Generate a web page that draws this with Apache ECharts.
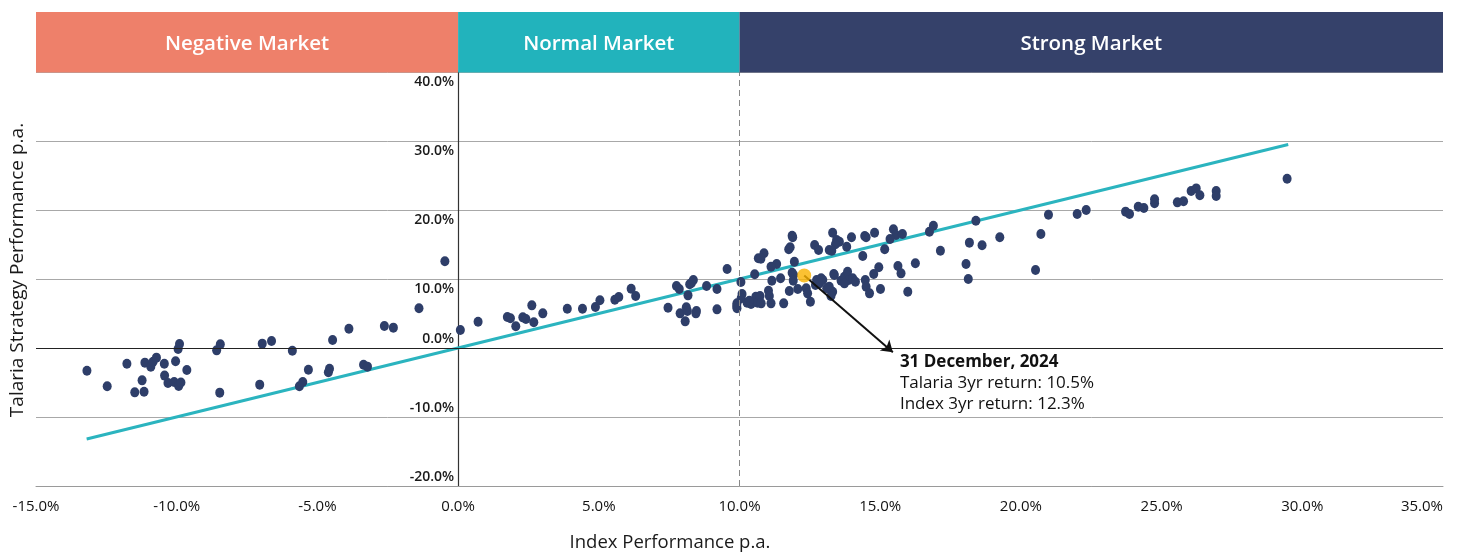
<!DOCTYPE html>
<html><head><meta charset="utf-8">
<script src="https://cdn.jsdelivr.net/npm/echarts@6/dist/echarts.min.js"></script>
<style>html,body{margin:0;padding:0;background:#fff}#c{width:1458px;height:554px}</style>
</head><body><div id="c"></div>
<script>
// ---- data ----
const xTicks = {min: -15, max: 35, interval: 5};
const yTicks = {min: -20, max: 40, interval: 10};
const bands = [
  {name: 'Negative Market', from: -15, to: 0, color: '#EE806A'},
  {name: 'Normal Market', from: 0, to: 10, color: '#22B3BC'},
  {name: 'Strong Market', from: 10, to: 35, color: '#35416A'}
];
const negativePts = [[-13.19,-3.29],[-12.47,-5.55],[-11.77,-2.27],[-11.49,-6.43],[-11.23,-4.69],[-11.16,-6.33],[-11.13,-2.12],[-10.92,-2.7],[-10.84,-1.98],[-10.72,-1.4],[-10.44,-2.27],[-10.43,-4.0],[-10.31,-5.07],[-10.09,-4.93],[-10.04,-1.93],[-9.95,-0.14],[-9.9,0.58],[-9.93,-5.51],[-9.85,-5.0],[-9.64,-3.19],[-8.58,-0.34],[-8.45,0.53],[-8.47,-6.47],[-7.05,-5.31],[-6.96,0.63],[-6.63,1.01],[-5.89,-0.39],[-5.64,-5.55],[-5.52,-4.93],[-5.32,-3.14],[-4.57,-3.0],[-4.61,-3.52],[-4.46,1.16],[-3.88,2.8],[-3.36,-2.42],[-3.22,-2.7],[-2.62,3.19],[-2.3,2.95],[-1.39,5.75],[-0.47,12.56]];
const normalPts = [[0.08,2.6],[0.71,3.8],[1.75,4.49],[1.86,4.3],[2.05,3.14],[2.3,4.44],[2.41,4.2],[2.62,6.18],[2.69,3.72],[3.01,5.02],[3.88,5.7],[4.42,5.7],[4.88,5.94],[5.04,6.91],[5.57,7.0],[5.71,7.39],[6.15,8.59],[6.31,7.54],[7.46,5.84],[7.76,8.99],[7.86,8.55],[7.89,5.02],[8.07,3.86],[8.11,5.89],[8.15,5.36],[8.17,7.63],[8.23,9.23],[8.29,9.42],[8.36,9.86],[8.45,5.02],[8.47,5.36],[8.83,8.99],[9.2,8.55],[9.2,5.6],[9.56,11.45],[9.91,6.47],[9.91,5.75],[9.9,6.1]];
const strongPts = [[10.05,9.57],[10.09,7.82],[10.06,7.2],[10.27,6.57],[10.41,6.38],[10.58,7.44],[10.64,6.57],[10.35,6.86],[10.73,7.54],[10.77,6.47],[11.03,8.3],[11.06,7.54],[11.12,6.47],[11.57,6.47],[10.67,13.0],[10.54,10.7],[10.87,13.72],[10.76,12.95],[11.32,12.17],[11.12,11.78],[11.95,12.51],[11.87,16.27],[11.89,16.04],[11.8,14.59],[11.75,14.3],[11.87,10.91],[11.92,10.58],[11.15,9.75],[11.46,10.1],[11.91,9.76],[11.77,8.26],[12.07,8.55],[12.37,8.65],[12.42,7.92],[12.52,6.7],[12.74,9.86],[12.9,10.1],[12.84,9.37],[12.7,9.13],[12.96,9.86],[13.35,10.72],[13.19,8.88],[13.31,8.16],[13.25,7.54],[13.1,8.65],[13.37,10.58],[13.61,9.76],[13.73,10.33],[13.84,11.06],[13.88,9.86],[14.02,10.1],[14.12,9.61],[13.73,9.37],[14.47,9.86],[14.5,8.88],[14.62,7.92],[14.77,10.72],[14.95,11.7],[15.01,8.55],[15.63,11.88],[15.74,10.82],[15.98,8.16],[16.25,12.27],[18.05,12.17],[18.13,10.0],[20.52,11.3],[13.31,16.71],[13.98,16.04],[14.45,16.23],[14.5,16.04],[14.8,16.71],[15.47,17.2],[15.56,16.38],[15.79,16.52],[13.45,15.65],[13.55,15.41],[13.41,15.03],[12.67,14.93],[12.81,14.2],[13.19,14.2],[13.28,14.1],[13.81,14.68],[15.16,14.3],[15.35,15.8],[14.38,13.33],[16.75,16.86],[16.89,17.73],[17.14,14.1],[18.4,18.45],[18.17,15.27],[18.62,14.88],[19.25,16.04],[20.71,16.52],[20.98,19.32],[22.0,19.42],[22.32,20.0],[23.72,19.76],[23.86,19.42],[24.17,20.48],[24.37,20.29],[24.75,21.55],[24.75,20.97],[25.56,21.11],[25.78,21.26],[26.05,22.75],[26.23,23.13],[26.36,22.13],[26.94,22.75],[26.94,22.03],[29.46,24.54]];
const trendLine = [[-13.2,-13.2],[29.5,29.5]];
const latestPoint = [12.3, 10.5];
const arrowEnd = [15.45, -0.6];
const annotationAnchor = [15.7, -0.8];
const annotationLines = ['31 December, 2024', 'Talaria 3yr return: 10.5%', 'Index 3yr return: 12.3%'];
const dashedX = 10;

const FONT = '"Open Sans", Lato, sans-serif';
const GRID_LEFT = 36;
const chart = echarts.init(document.getElementById('c'), null, {renderer: 'canvas'});
const pct = v => v.toFixed(1) + '%';
const yLabel = v => (v > 0 ? '{up|' : '{dn|') + pct(v) + '}';
chart.setOption({
  animation: false,
  grid: {left: GRID_LEFT, right: 15, top: 72, bottom: 68, containLabel: false, outerBoundsMode: 'none'},
  xAxis: {
    type: 'value', min: xTicks.min, max: xTicks.max, interval: xTicks.interval,
    axisLine: {show: true, onZero: false, lineStyle: {color: '#9a9a9a', width: 1}},
    axisTick: {show: false}, splitLine: {show: false},
    axisLabel: {formatter: pct, color: '#111', fontSize: 15, margin: 13, fontFamily: FONT, alignMaxLabel: 'right'}
  },
  yAxis: {
    type: 'value', min: yTicks.min, max: yTicks.max, interval: yTicks.interval,
    axisLine: {show: true, onZero: false, lineStyle: {color: '#333', width: 1.2}},
    axisTick: {show: false},
    splitLine: {show: true, lineStyle: {color: '#a8a8a8', width: 1}},
    axisLabel: {formatter: yLabel, margin: 4,
      rich: {
        up: {color: '#1a1a1a', fontSize: 14, fontWeight: 600, fontFamily: FONT, padding: [20, 0, 0, 0]},
        dn: {color: '#1a1a1a', fontSize: 14, fontWeight: 600, fontFamily: FONT, padding: [0, 0, 18, 0]}
      }}
  },
  series: [
    {type: 'line', data: trendLine, symbol: 'none', lineStyle: {color: '#2BB4BF', width: 3}, z: 3,
     markLine: {silent: true, symbol: 'none', label: {show: false}, animation: false,
       data: [
         {yAxis: 0, lineStyle: {color: '#222', width: 1.2, type: 'solid'}},
         {xAxis: dashedX, lineStyle: {color: '#888', width: 1, type: [6, 4]}}
       ]}},
    {type: 'scatter', data: negativePts, symbolSize: [9, 10], itemStyle: {color: '#2E3E69', opacity: 1}, z: 4},
    {type: 'scatter', data: normalPts, symbolSize: [9, 10], itemStyle: {color: '#2E3E69', opacity: 1}, z: 4},
    {type: 'scatter', data: strongPts, symbolSize: [9, 10], itemStyle: {color: '#2E3E69', opacity: 1}, z: 4},
    {type: 'scatter', data: [latestPoint], symbolSize: 14, itemStyle: {color: '#F9B200'}, z: 6,
     markLine: {silent: true, symbol: ['none', 'arrow'], symbolSize: 11, label: {show: false}, animation: false,
       lineStyle: {color: '#111', width: 2, type: 'solid'},
       data: [[{coord: latestPoint}, {coord: arrowEnd}]]}}
  ]
});

function draw() {
  const p = v => chart.convertToPixel({gridIndex: 0}, v);
  // move the y axis (line + labels) onto x = 0
  const zeroX = p([0, 0])[0];
  chart.setOption({yAxis: {offset: -(zeroX - GRID_LEFT)}});
  const g = [];
  const topY = p([0, yTicks.max])[1];
  bands.forEach(b => {
    const x0 = p([b.from, 0])[0], x1 = p([b.to, 0])[0];
    g.push({type: 'rect', shape: {x: x0, y: 12, width: x1 - x0, height: topY - 12 + 0.5}, style: {fill: b.color}, z: 10});
    g.push({type: 'text', x: (x0 + x1) / 2, y: (12 + topY) / 2 + 2, z: 11,
      style: {text: b.name, fill: '#fff', font: '600 20.5px ' + FONT, align: 'center', verticalAlign: 'middle'}});
  });
  const a = p(annotationAnchor);
  annotationLines.forEach((t, i) => {
    g.push({type: 'text', x: a[0], y: a[1] + i * 21, z: 11,
      style: {text: t, fill: '#111', font: (i === 0 ? 'bold ' : '') + '17px ' + FONT, align: 'left', verticalAlign: 'top'}});
  });
  g.push({type: 'text', x: 670, y: 543, z: 11,
    style: {text: 'Index Performance p.a.', fill: '#1a1a1a', font: '18.5px ' + FONT, align: 'center', verticalAlign: 'middle'}});
  g.push({type: 'text', x: 18, y: 270, rotation: Math.PI / 2, z: 11,
    style: {text: 'Talaria Strategy Performance p.a.', fill: '#1a1a1a', font: '19px ' + FONT, align: 'center', verticalAlign: 'middle'}});
  chart.setOption({graphic: g});
}
draw();
</script></body></html>
